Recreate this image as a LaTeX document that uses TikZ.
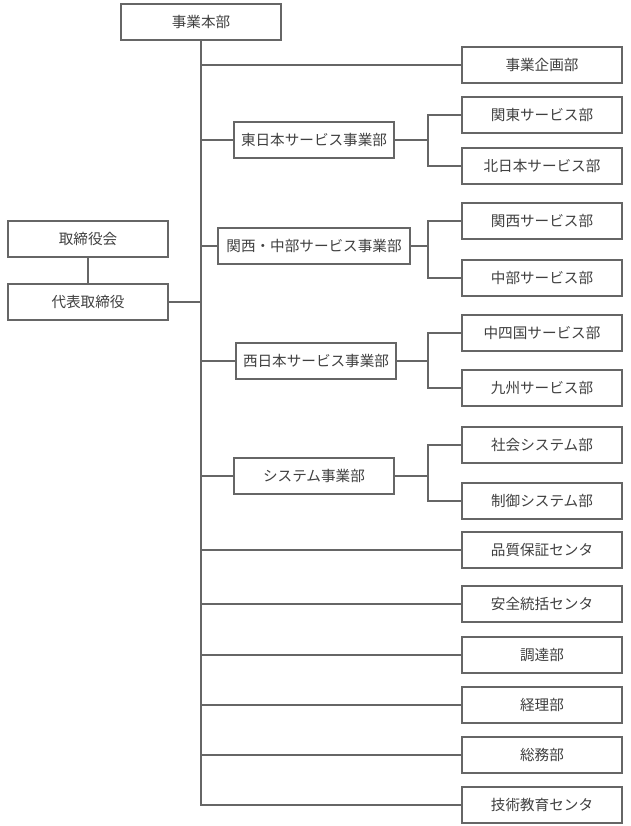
\documentclass[tikz,border=0pt]{standalone}
\usepackage{fontspec}
\newfontfamily\jpfont{Noto Sans CJK JP}
\definecolor{linegray}{HTML}{666666}
\definecolor{textgray}{HTML}{404040}

\begin{document}
\begin{tikzpicture}[x=1pt, y=-1pt, font=\jpfont\fontsize{14.6}{16}\selectfont,
	box/.style={draw=linegray, line width=1.5pt, fill=white, text=textgray, minimum width=160pt, minimum height=36pt, inner sep=0pt},
	wide/.style={box, minimum width=192pt},
	link/.style={draw=linegray, line width=1.5pt}]
	\useasboundingbox (0,0) rectangle (630,826);
	% top and left
	\node (honbu) [box] at (201,22) {事業本部};
	\node (torishimari) [box] at (88,239) {取締役会};
	\node (daihyo) [box] at (88,302) {代表取締役};
	% middle column
	\node (higashi) [box] at (314,140) {東日本サービス事業部};
	\node (kanchu) [wide] at (314,246) {関西・中部サービス事業部};
	\node (nishi) [box] at (316,361) {西日本サービス事業部};
	\node (system) [box] at (314,476) {システム事業部};
	% right column
	\node (kikaku) [box] at (542,65) {事業企画部};
	\node (kanto) [box] at (542,115) {関東サービス部};
	\node (kitanihon) [box] at (542,166) {北日本サービス部};
	\node (kansai) [box] at (542,221) {関西サービス部};
	\node (chubu) [box] at (542,278) {中部サービス部};
	\node (chushikoku) [box] at (542,333) {中四国サービス部};
	\node (kyushu) [box] at (542,388) {九州サービス部};
	\node (shakai) [box] at (542,445) {社会システム部};
	\node (seigyo) [box] at (542,501) {制御システム部};
	\node (hinshitsu) [box] at (542,550) {品質保証センタ};
	\node (anzen) [box] at (542,604) {安全統括センタ};
	\node (chotatsu) [box] at (542,655) {調達部};
	\node (keiri) [box] at (542,705) {経理部};
	\node (somu) [box] at (542,755) {総務部};
	\node (gijutsu) [box] at (542,805) {技術教育センタ};
	% trunk
	\draw[link] (honbu.south) |- (gijutsu.west);
	\draw[link] (torishimari) -- (daihyo);
	\draw[link] (daihyo.east) -- (daihyo.east -| honbu.south);
	\draw[link] (honbu.south |- kikaku.west) -- (kikaku.west);
	\draw[link] (honbu.south |- higashi.west) -- (higashi.west);
	\draw[link] (honbu.south |- kanchu.west) -- (kanchu.west);
	\draw[link] (honbu.south |- nishi.west) -- (nishi.west);
	\draw[link] (honbu.south |- system.west) -- (system.west);
	\draw[link] (honbu.south |- hinshitsu.west) -- (hinshitsu.west);
	\draw[link] (honbu.south |- anzen.west) -- (anzen.west);
	\draw[link] (honbu.south |- chotatsu.west) -- (chotatsu.west);
	\draw[link] (honbu.south |- keiri.west) -- (keiri.west);
	\draw[link] (honbu.south |- somu.west) -- (somu.west);
	% brackets
	\coordinate (hj) at (428,140);
	\coordinate (kc) at (428,246);
	\coordinate (nj) at (428,361);
	\coordinate (sj) at (428,476);
	\draw[link] (higashi.east) -- (hj);
	\draw[link] (kanto.west) -| (hj) |- (kitanihon.west);
	\draw[link] (kanchu.east) -- (kc);
	\draw[link] (kansai.west) -| (kc) |- (chubu.west);
	\draw[link] (nishi.east) -- (nj);
	\draw[link] (chushikoku.west) -| (nj) |- (kyushu.west);
	\draw[link] (system.east) -- (sj);
	\draw[link] (shakai.west) -| (sj) |- (seigyo.west);
\end{tikzpicture}
\end{document}
